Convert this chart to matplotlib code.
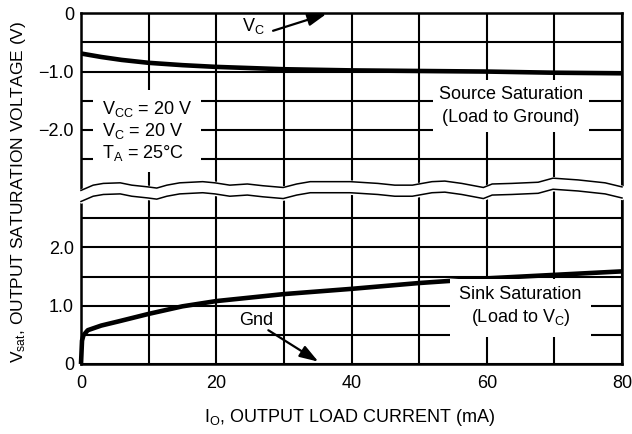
import matplotlib
matplotlib.use("Agg")
import matplotlib.pyplot as plt
from matplotlib import font_manager as fm

# ---------------- data ----------------
# Source saturation (Load to Ground), upper panel, volts
source_current = [0, 3, 6, 10, 15, 20, 30, 40, 50, 60, 70, 80]
source_vsat = [-0.69, -0.75, -0.80, -0.85, -0.89, -0.92, -0.96, -0.98, -0.99, -1.00, -1.02, -1.03]

# Sink saturation (Load to Vc), lower panel, volts
sink_current = [0, 0.15, 0.35, 1, 3, 5.5, 10, 15, 20, 30, 40, 50, 60, 70, 80]
sink_vsat = [0, 0.40, 0.49, 0.58, 0.66, 0.73, 0.86, 0.99, 1.08, 1.20, 1.29, 1.39, 1.47, 1.53, 1.59]

x_tick_values = [0, 20, 40, 60, 80]
x_grid_values = [0, 10, 20, 30, 40, 50, 60, 70, 80]
x_limits = (0, 80)

lower_tick_values = [0, 1.0, 2.0]
lower_tick_labels = ["0", "1.0", "2.0"]
lower_grid_values = [0.5, 1.0, 1.5, 2.0, 2.5]

upper_tick_values = [0, -1.0, -2.0]
upper_tick_labels = ["0", "\u22121.0", "\u22122.0"]
upper_grid_values = [-0.5, -1.0, -1.5, -2.0, -2.5]

# the broken axis: upper panel's 0 V sits this high on the shared vertical scale
UPPER_OFFSET = 6.02

# wavy break line (upper edge), on the shared vertical scale
break_current = [0, 1.8, 3.3, 5.8, 7.5, 9.9, 11.2, 12.7, 14.6, 18.0, 19.8, 22.0, 24.6, 26.9,
                 29.9, 31.9, 33.9, 39.8, 43.9, 46.4, 49.0, 51.9, 53.8, 56.3, 59.5, 60.8,
                 63.7, 67.6, 69.8, 73.5, 77.5, 80]
break_level = [2.98, 3.07, 3.10, 3.11, 3.07, 3.04, 3.02, 3.07, 3.11, 3.13, 3.11, 3.07, 3.09, 3.06,
               3.03, 3.09, 3.13, 3.13, 3.10, 3.07, 3.07, 3.13, 3.14, 3.10, 3.03, 3.09,
               3.10, 3.12, 3.19, 3.16, 3.11, 3.04]
BREAK_GAP = 0.19

# ---------------- fonts ----------------
avail = {f.name for f in fm.fontManager.ttflist}
FONT = "DejaVu Sans"
for cand in ["Liberation Sans Narrow", "DejaVu Sans Condensed", "Liberation Sans"]:
    if cand in avail:
        FONT = cand
        break
plt.rcParams["font.family"] = [FONT, "DejaVu Sans"]
plt.rcParams["mathtext.fontset"] = "custom"
plt.rcParams["mathtext.rm"] = FONT
plt.rcParams["mathtext.it"] = FONT
plt.rcParams["mathtext.bf"] = FONT
plt.rcParams["axes.unicode_minus"] = True

FS = 13

def up(v):
    return [x + UPPER_OFFSET for x in v]

fig = plt.figure(figsize=(6.32, 4.34), dpi=100)
ax = fig.add_axes([81 / 632, 70 / 434, 541 / 632, (364 - 13.3) / 434])

ax.set_xlim(*x_limits)
ax.set_ylim(0, UPPER_OFFSET)

# grid
ax.set_xticks(x_grid_values, [str(v) if v in x_tick_values else "" for v in x_grid_values])
ytick_pos = [0] + lower_grid_values + up(upper_grid_values) + [UPPER_OFFSET]
ytick_lab = []
for p in [0] + lower_grid_values:
    ytick_lab.append(lower_tick_labels[lower_tick_values.index(p)] if p in lower_tick_values else "")
for p in upper_grid_values + [0]:
    ytick_lab.append(upper_tick_labels[upper_tick_values.index(p)] if p in upper_tick_values else "")
ax.set_yticks(ytick_pos, ytick_lab)
ax.grid(True, color="black", linewidth=1.5)
ax.tick_params(length=0, labelsize=FS)
ax.tick_params(axis="x", pad=8)
ax.tick_params(axis="y", pad=5)
for s in ax.spines.values():
    s.set_linewidth(1.8)

# axis break
lower_edge = [b - BREAK_GAP for b in break_level]
ax.fill_between(break_current, lower_edge, break_level, facecolor="white",
                edgecolor="white", linewidth=2.5, zorder=2.6, clip_on=False)
ax.plot(break_current, break_level, color="black", lw=1.1, zorder=2.7, clip_on=False)
ax.plot(break_current, lower_edge, color="black", lw=1.1, zorder=2.7, clip_on=False)

# curves
ax.plot(source_current, up(source_vsat), color="black", lw=3.3, zorder=3,
        solid_capstyle="butt")
ax.plot(sink_current, sink_vsat, color="black", lw=3.3, zorder=3, clip_on=False,
        solid_capstyle="butt")

# text annotations
ax.text(3.06, 4.0, "V$_{\\mathrm{CC}}$ = 20 V\nV$_{\\mathrm{C}}$ = 20 V\nT$_{\\mathrm{A}}$ = 25°C",
        fontsize=FS, ha="left", va="center", linespacing=1.15, zorder=5,
        bbox=dict(boxstyle="square,pad=0.5", facecolor="white", edgecolor="none"))
ax.text(63.6, 4.43, "Source Saturation\n(Load to Ground)", fontsize=FS, ha="center",
        va="center", linespacing=1.45, zorder=5,
        bbox=dict(boxstyle="square,pad=0.35", facecolor="white", edgecolor="none"))
ax.text(65.0, 0.98, "Sink Saturation\n(Load to V$_{\\mathrm{C}}$)", fontsize=FS, ha="center",
        va="center", linespacing=1.25, zorder=5,
        bbox=dict(boxstyle="square,pad=0.5", facecolor="white", edgecolor="none"))

ax.text(27.2, 5.80, "V$_{\\mathrm{C}}$", fontsize=FS, ha="right", va="center", zorder=5)
arrow_style = dict(arrowstyle="-|>,head_length=0.75,head_width=0.25", color="black",
                   lw=1.6, shrinkA=0, shrinkB=0, mutation_scale=15)
ax.annotate("", xy=(36.3, 6.01), xytext=(28.4, 5.72),
            arrowprops=arrow_style, annotation_clip=False, zorder=5)

ax.text(25.95, 0.75, "Gnd", fontsize=FS, ha="center", va="center", zorder=5)
ax.annotate("", xy=(35.1, 0.04), xytext=(27.7, 0.58),
            arrowprops=arrow_style, annotation_clip=False, zorder=5)

ax.set_xlabel("I$_{\\mathrm{O}}$, OUTPUT LOAD CURRENT (mA)", fontsize=FS, va="center")
ax.xaxis.set_label_coords((350 - 81) / 541, (364 - 418) / 350.7)
ax.set_ylabel("V$_{\\mathrm{sat}}$, OUTPUT SATURATION VOLTAGE (V)", fontsize=12.5, va="center")
ax.yaxis.set_label_coords((19 - 81) / 541, (364 - 192) / 350.7)

fig.savefig("out.png", dpi=100)
